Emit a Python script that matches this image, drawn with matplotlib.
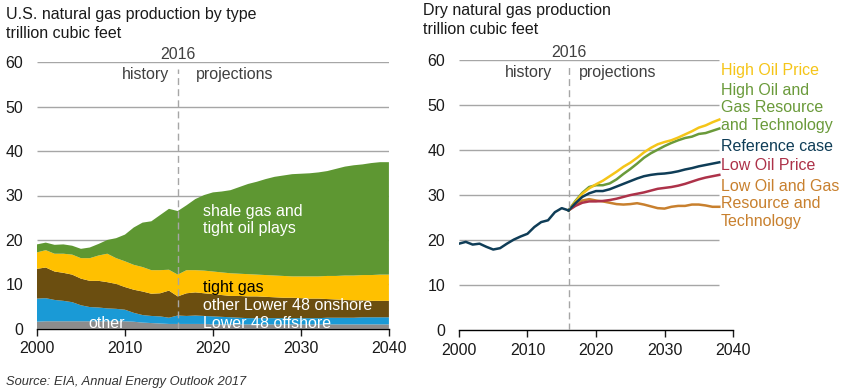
import numpy as np
import matplotlib
matplotlib.use("Agg")
from matplotlib import pyplot as plt

plt.rcParams['font.family'] = ['Liberation Sans', 'DejaVu Sans']

# left chart: production by type, 2000-2040 (trillion cubic feet, layer thickness)
years = list(range(2000, 2041))
other = [1.6, 1.7, 1.7, 1.7, 1.7, 1.7, 1.7, 1.7, 1.7, 1.7, 1.7, 1.6, 1.4, 1.3, 1.2, 1.1, 1.1,
         1.1, 1.1, 1.1, 1.0, 1.0, 1.0, 1.0, 1.0, 1.0, 1.0, 1.0, 1.0, 1.0, 1.0, 1.0, 1.0, 1.0,
         1.0, 1.0, 1.0, 1.0, 1.0, 1.0, 1.0]
offshore = [5.2, 5.2, 4.8, 4.6, 4.3, 3.6, 3.2, 3.1, 2.9, 2.8, 2.6, 2.0, 1.7, 1.6, 1.6, 1.4, 1.9,
            1.8, 1.9, 1.8, 1.8, 1.7, 1.6, 1.5, 1.4, 1.4, 1.4, 1.4, 1.4, 1.4, 1.4, 1.4, 1.4, 1.5,
            1.5, 1.5, 1.5, 1.6, 1.6, 1.6, 1.6]
onshore = [6.7, 6.9, 6.4, 6.3, 6.2, 6.0, 5.9, 6.0, 5.9, 5.6, 5.1, 5.2, 5.3, 5.0, 5.2, 6.1, 4.3,
           5.1, 5.2, 5.1, 5.0, 4.9, 4.8, 4.9, 4.9, 4.9, 4.8, 4.7, 4.6, 4.6, 4.5, 4.4, 4.4, 4.2,
           4.1, 4.0, 3.9, 3.8, 3.7, 3.7, 3.7]
tight = [3.7, 3.9, 4.0, 4.3, 4.5, 4.6, 5.1, 5.7, 6.4, 5.8, 5.8, 5.6, 5.5, 5.3, 5.2, 4.7, 4.9,
         5.2, 5.0, 5.1, 5.1, 5.1, 5.1, 5.0, 5.0, 4.9, 4.9, 4.9, 4.9, 4.8, 4.9, 5.0, 5.0, 5.2,
         5.3, 5.5, 5.6, 5.7, 5.8, 5.9, 5.9]
shale = [1.8, 1.7, 2.0, 2.1, 2.0, 2.1, 2.4, 2.6, 3.1, 4.5, 6.0, 8.4, 10.0, 11.0, 12.4, 13.7, 14.3,
         14.6, 16.0, 17.0, 17.8, 18.2, 18.7, 19.5, 20.3, 20.9, 21.6, 22.2, 22.6, 23.0, 23.1, 23.2,
         23.4, 23.6, 24.1, 24.5, 24.8, 24.9, 25.2, 25.3, 25.3]

# right chart: dry gas production by case
hist_years = list(range(2000, 2017))
hist = [19.2, 19.6, 19.0, 19.2, 18.5, 17.9, 18.2, 19.2, 20.1, 20.8, 21.4, 22.9, 24.0, 24.4,
        26.2, 27.1, 26.6]
proj_years = list(range(2016, 2039))
high_oil = [26.6, 28.5, 30.3, 31.5, 32.4, 33.2, 34.2, 35.2, 36.3, 37.2, 38.3, 39.5, 40.5, 41.3,
            41.8, 42.2, 42.8, 43.5, 44.2, 45.0, 45.5, 46.2, 46.8]
high_res = [26.6, 28.7, 30.5, 31.8, 32.2, 32.2, 32.6, 33.5, 34.7, 35.8, 37.0, 38.3, 39.3, 40.1,
            40.9, 41.6, 42.2, 42.7, 43.0, 43.6, 43.8, 44.3, 44.8]
reference = [26.6, 28.2, 29.6, 30.4, 30.9, 30.9, 31.3, 31.9, 32.5, 33.1, 33.7, 34.2, 34.5, 34.7,
             34.8, 35.0, 35.3, 35.7, 36.0, 36.4, 36.7, 37.0, 37.3]
low_oil = [26.6, 27.6, 28.3, 28.6, 28.6, 28.7, 28.9, 29.2, 29.6, 30.0, 30.3, 30.6, 31.0, 31.4,
           31.6, 31.8, 32.1, 32.5, 33.0, 33.5, 33.9, 34.2, 34.5]
low_res = [26.6, 27.9, 28.8, 29.1, 28.8, 28.6, 28.3, 28.0, 27.9, 28.0, 28.2, 27.9, 27.5, 27.1,
           27.0, 27.4, 27.6, 27.6, 27.9, 27.9, 27.7, 27.4, 27.4]

case_labels = ['High Oil Price', 'High Oil and\nGas Resource\nand Technology', 'Reference case',
               'Low Oil Price', 'Low Oil and Gas\nResource and\nTechnology']
case_colors = ['#f5c518', '#6a9a3a', '#0f3d57', '#ad3249', '#c8802e']

grid_c = '#a6a6a6'
txt = '#1a1a1a'
fs = 11.5

fig = plt.figure(figsize=(8.44, 3.91), dpi=100)
ax1 = fig.add_axes([0.0438, 0.159, 0.417, 0.682])
ax2 = fig.add_axes([0.5438, 0.156, 0.3247, 0.690])


def style_axis(ax, grid_end, hist_x, proj_x):
    ax.set_xlim(2000, 2040)
    ax.set_ylim(0, 60)
    for s in ['top', 'right', 'left']:
        ax.spines[s].set_visible(False)
    ax.spines['bottom'].set_color('black')
    ax.spines['bottom'].set_linewidth(1)
    ax.set_xticks([2000, 2010, 2020, 2030, 2040])
    ax.set_yticks([0, 10, 20, 30, 40, 50, 60])
    ax.tick_params(axis='x', direction='out', length=5, width=1, pad=4, labelsize=fs, colors=txt)
    ax.tick_params(axis='y', length=0, pad=10, labelsize=fs, colors=txt)
    for v in [10, 20, 30, 40, 50, 60]:
        ax.hlines(v, 2000, grid_end, color=grid_c, lw=1, zorder=0)
    ax.axvline(2016, ymax=0.975, color=grid_c, lw=1, ls=(0, (5, 3)), zorder=5)
    ax.text(2016, 61.7, '2016', ha='center', va='center', fontsize=fs, color='#404040',
            clip_on=False)
    ax.text(hist_x, 57.2, 'history', ha='right', va='center', fontsize=fs, color='#404040')
    ax.text(proj_x, 57.2, 'projections', ha='left', va='center', fontsize=fs, color='#404040')


# left chart
style_axis(ax1, 2040, 2015.0, 2018.1)
ax1.stackplot(years, other, offshore, onshore, tight, shale,
              colors=['#8c8c8c', '#1a9ad6', '#6b4e10', '#ffc000', '#5e9732'],
              linewidth=0, zorder=2)
ax1.text(2018.9, 24.5, 'shale gas and\ntight oil plays', color='white', fontsize=fs,
         va='center', linespacing=1.15)
ax1.text(2018.9, 9.4, 'tight gas', color='black', fontsize=fs, va='center')
ax1.text(2018.9, 5.3, 'other Lower 48 onshore', color='white', fontsize=fs, va='center')
ax1.text(2018.9, 1.1, 'Lower 48 offshore', color='white', fontsize=fs, va='center')
ax1.text(2005.8, 1.1, 'other', color='white', fontsize=fs, va='center')

# right chart
style_axis(ax2, 2038, 2013.6, 2017.5)
for vals, col in zip([low_res, low_oil, high_res, high_oil, reference],
                     [case_colors[4], case_colors[3], case_colors[1], case_colors[0], case_colors[2]]):
    ax2.plot(proj_years, vals, color=col, lw=1.8, zorder=3)
ax2.plot(hist_years, hist, color=case_colors[2], lw=1.8, zorder=3)

label_y = [70, 108, 147, 166, 204]
for lab, col, yp in zip(case_labels, case_colors, label_y):
    fig.text(721 / 844, 1 - yp / 391, lab, color=col, fontsize=fs, va='center', ha='left',
             linespacing=1.2)

fig.text(6 / 844, 1 - 15 / 391, 'U.S. natural gas production by type', fontsize=fs, color=txt,
         va='center')
fig.text(6 / 844, 1 - 34 / 391, 'trillion cubic feet', fontsize=fs, color=txt, va='center')
fig.text(423 / 844, 1 - 11 / 391, 'Dry natural gas production', fontsize=fs, color=txt, va='center')
fig.text(423 / 844, 1 - 30 / 391, 'trillion cubic feet', fontsize=fs, color=txt, va='center')
fig.text(6 / 844, 1 - 382 / 391, 'Source: EIA, Annual Energy Outlook 2017', fontsize=9.3,
         style='italic', color='#333333', va='center')

fig.savefig('out.png', dpi=100, facecolor='white')
